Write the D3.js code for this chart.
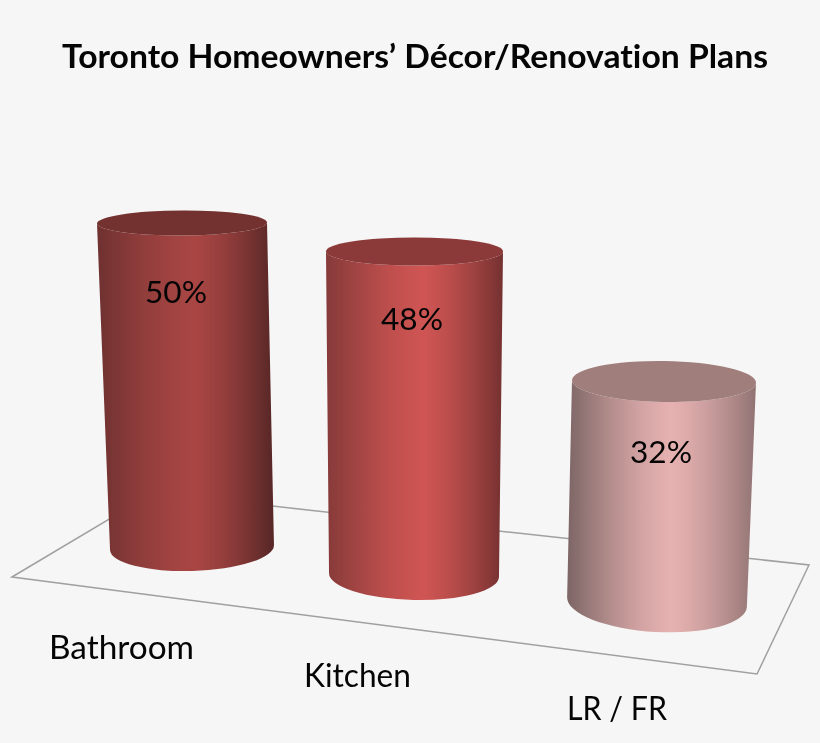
<!DOCTYPE html>
<html>
<head>
<meta charset="utf-8">
<script src="https://d3js.org/d3.v7.min.js"></script>
<style>
html,body{margin:0;padding:0;background:#f6f6f6;overflow:hidden}
svg{display:block;filter:blur(0.45px)}
text{font-family:Lato,"Open Sans",sans-serif;fill:#050505;font-variant-ligatures:none}
</style>
</head>
<body>
<div id="chart"></div>
<script>
const titleText = "Toronto Homeowners\u2019 D\u00e9cor/Renovation Plans";
const categories = ["Bathroom", "Kitchen", "LR / FR"];
const values = [50, 48, 32];
const sideColors = [
  ["#6e3130", "#a94644", "#562726"],
  ["#853a39", "#cf5553", "#743130"],
  ["#7d6565", "#e6b2b1", "#917373"]
];
const topColors = ["#733230", "#8b3a39", "#a07e7b"];

const W = 820, H = 743;
const svg = d3.select("#chart").append("svg").attr("width", W).attr("height", H);
svg.append("rect").attr("width", W).attr("height", H).attr("fill", "#f6f6f6");

// Layout scales: category position -> oblique 3D view
const piece = r => d3.scaleLinear().domain([0, 1, 2]).range(r);
const baseX = piece([192, 414, 657]);
const baseY = piece([547.5, 575, 602]);
const baseRx = piece([82, 85, 90]);
const baseRy = piece([23.5, 25, 30]);
const baseTilt = piece([-1.75, 1.3, 3.2]);
const topX = piece([182, 414.5, 664]);
const topRx = piece([85, 88.5, 92]);
const topRy = piece([12.5, 14, 20.5]);
const topTilt = piece([-0.3, 0, 0.8]);
const unitPx = piece([6.49, 6.74, 6.89]);   // pixels per percentage point at each depth
const labelX = piece([176, 412, 661]);
const labelDy = piece([79.5, 78.5, 81.5]);
const catX = piece([121.5, 357.5, 617]);
const catY = piece([659, 687, 720]);
const catW = piece([145, 107, 100]);

const floorCorners = [[12, 577], [153, 493], [809, 565], [757, 674]];
svg.append("path")
  .attr("d", d3.line().curve(d3.curveLinearClosed)(floorCorners))
  .attr("fill", "none").attr("stroke", "#a0a0a0").attr("stroke-width", 1.5);

const defs = svg.append("defs");
const rows = categories.map((c, i) => ({c, v: values[i], i}));

// Rounded shading: colour eases from the rim into the highlight
const peak = 0.55;
const stopOffsets = d3.range(0, 1.0001, 0.05);
rows.forEach(d => {
  const [l, m, r] = sideColors[d.i];
  const left = d3.interpolateRgb(l, m), right = d3.interpolateRgb(m, r);
  const shade = t => {
    if (t <= peak) {
      const u = t / peak;
      return left((u + Math.sin(u * Math.PI / 2)) / 2);
    }
    const u = (t - peak) / (1 - peak);
    return right((u + 1 - Math.cos(u * Math.PI / 2)) / 2);
  };
  const g = defs.append("linearGradient").attr("id", "side" + d.i)
    .attr("x1", 0).attr("x2", 1).attr("y1", 0).attr("y2", 0);
  g.selectAll("stop").data(stopOffsets).join("stop")
    .attr("offset", t => t)
    .attr("stop-color", t => shade(t));
});

const rad = Math.PI / 180;
const cyl = svg.selectAll("g.cyl").data(rows).join("g").attr("class", "cyl");
const topYOf = d => baseY(d.i) - d.v * unitPx(d.i);

cyl.append("path")
  .attr("fill", d => `url(#side${d.i})`)
  .attr("d", d => {
    const bx = baseX(d.i), by = baseY(d.i), brx = baseRx(d.i), bry = baseRy(d.i), bt = baseTilt(d.i);
    const tx = topX(d.i), ty = topYOf(d), trx = topRx(d.i), tt = topTilt(d.i);
    const bdx = brx * Math.cos(bt * rad), bdy = brx * Math.sin(bt * rad);
    const tdx = trx * Math.cos(tt * rad), tdy = trx * Math.sin(tt * rad);
    return `M${tx - tdx},${ty - tdy}L${bx - bdx},${by - bdy}` +
      `A${brx},${bry} ${bt} 0 0 ${bx + bdx},${by + bdy}` +
      `L${tx + tdx},${ty + tdy}` +
      `A${trx},${topRy(d.i)} ${tt} 0 1 ${tx - tdx},${ty - tdy}Z`;
  });

cyl.append("ellipse")
  .attr("rx", d => topRx(d.i))
  .attr("ry", d => topRy(d.i))
  .attr("transform", d => `translate(${topX(d.i)},${topYOf(d)}) rotate(${topTilt(d.i)})`)
  .attr("fill", d => topColors[d.i]);

svg.selectAll("text.val").data(rows).join("text")
  .attr("class", "val")
  .attr("x", d => labelX(d.i))
  .attr("y", d => topYOf(d) + labelDy(d.i))
  .attr("text-anchor", "middle")
  .attr("font-size", 31)
  .attr("textLength", 62)
  .attr("lengthAdjust", "spacingAndGlyphs")
  .text(d => d.v + "%");

svg.selectAll("text.cat").data(rows).join("text")
  .attr("class", "cat")
  .attr("x", d => catX(d.i))
  .attr("y", d => catY(d.i))
  .attr("text-anchor", "middle")
  .attr("font-size", 32)
  .attr("textLength", d => catW(d.i))
  .attr("lengthAdjust", "spacingAndGlyphs")
  .text(d => d.c);

svg.append("text")
  .attr("x", 415).attr("y", 68)
  .attr("text-anchor", "middle")
  .attr("font-size", 33).attr("font-weight", 700)
  .attr("textLength", 706)
  .attr("lengthAdjust", "spacingAndGlyphs")
  .text(titleText);
</script>
</body>
</html>
